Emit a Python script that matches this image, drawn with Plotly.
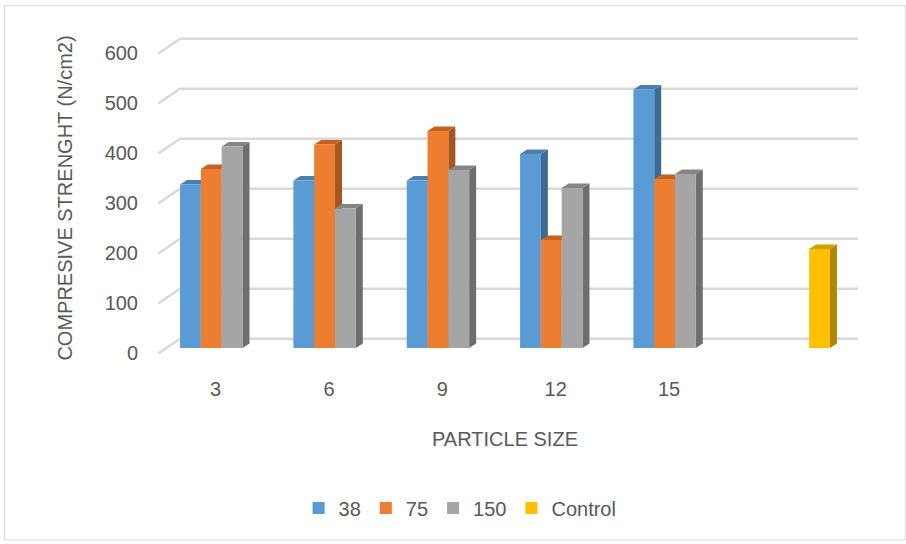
import plotly.graph_objects as go

# ---------------- data ----------------
categories = ["3", "6", "9", "12", "15", ""]
series_names = ["38", "75", "150", "Control"]
vals_38 = [327, 335, 335, 388, 517]
vals_75 = [358, 407, 434, 216, 338]
vals_150 = [403, 279, 356, 320, 348]
vals_control = [198]
y_ticks = [0, 100, 200, 300, 400, 500, 600]

colors = ["#5B9BD5", "#ED7D31", "#A5A5A5", "#FFC000"]
side_colors = ["#3E6A93", "#A4561F", "#6E6E6E", "#B08500"]
top_colors = ["#4A7FB0", "#C2631F", "#858585", "#D4A000"]

# ---------------- layout geometry (pixels) ----------------
W, H = 906, 544
PL, PR = 165.0, 844.8          # plot area left/right
PT, PB = 47.5, 348.5           # plot area top/bottom
YMAX = 600
pw, ph = PR - PL, PB - PT
cat_px = pw / len(categories)
bargap = 0.266
G = 1 - bargap
bw = G / len(series_names)
depth_dx_px, depth_dy_px = 7.0, 4.5      # bar depth
wall_dy_px = 9.2                          # back wall offset vs bar front
front_dy_px = -5.5                        # front plane offset vs bar front

def px_to_paper_x(px):
    return (px - PL) / pw

def px_to_paper_y(py):
    return (PB - py) / ph

x_idx = list(range(len(categories)))
series_x = [x_idx[:5], x_idx[:5], x_idx[:5], [5]]
series_vals = [vals_38, vals_75, vals_150, vals_control]

fig = go.Figure()
for j, (name, xs, ys) in enumerate(zip(series_names, series_x, series_vals)):
    fig.add_trace(go.Bar(
        x=xs, y=ys, name=name, marker=dict(color=colors[j], line=dict(width=0)),
        offset=-G / 2 + j * bw, width=bw,
    ))

shapes = []
# back-wall gridlines with the 3D floor diagonals
for v in y_ticks:
    yb = v / YMAX + wall_dy_px / ph
    xb0 = px_to_paper_x(180)
    shapes.append(dict(type="line", xref="paper", yref="paper",
                       x0=xb0, x1=px_to_paper_x(858), y0=yb, y1=yb,
                       line=dict(color="#D9D9D9", width=2.5), layer="below"))
    yf = v / YMAX + front_dy_px / ph
    shapes.append(dict(type="line", xref="paper", yref="paper",
                       x0=px_to_paper_x(158.3), y0=yf, x1=xb0, y1=yb,
                       line=dict(color="#D9D9D9", width=2.5), layer="below"))

# 3D faces of the bars
ddx = depth_dx_px / cat_px
ddy = depth_dy_px / ph * YMAX
for j, (xs, ys) in enumerate(zip(series_x, series_vals)):
    for xi, v in zip(xs, ys):
        L = xi - G / 2 + j * bw
        R = L + bw
        side = f"M {R},0 L {R+ddx},{ddy} L {R+ddx},{v+ddy} L {R},{v} Z"
        top = f"M {L},{v} L {R},{v} L {R+ddx},{v+ddy} L {L+ddx},{v+ddy} Z"
        shapes.append(dict(type="path", xref="x", yref="y", path=side,
                           fillcolor=side_colors[j], line=dict(width=0), layer="below"))
        shapes.append(dict(type="path", xref="x", yref="y", path=top,
                           fillcolor=top_colors[j], line=dict(width=0), layer="below"))

# chart border
shapes.append(dict(type="rect", xref="paper", yref="paper",
                   x0=px_to_paper_x(4.5), x1=px_to_paper_x(905),
                   y0=px_to_paper_y(541), y1=px_to_paper_y(5),
                   line=dict(color="#D9D9D9", width=1), fillcolor="rgba(0,0,0,0)", layer="below"))

font_family = "Liberation Sans, Arial, sans-serif"
text_color = "#595959"

fig.update_layout(
    width=W, height=H,
    margin=dict(l=PL, r=W - PR, t=PT, b=H - PB, pad=0),
    paper_bgcolor="white", plot_bgcolor="rgba(0,0,0,0)",
    barmode="group", bargap=bargap, bargroupgap=0,
    font=dict(family=font_family, size=20, color=text_color),
    shapes=shapes,
    showlegend=True,
    legend=dict(orientation="h", x=px_to_paper_x(460), xanchor="center",
                y=px_to_paper_y(509), yanchor="middle",
                font=dict(size=20, color=text_color), traceorder="normal"),
    xaxis=dict(range=[-0.5, len(categories) - 0.5], tickmode="array",
               tickvals=x_idx, ticktext=categories, showgrid=False, zeroline=False,
               showline=False, ticks="", ticklabelstandoff=27, ticklabelshift=-6,
               title=dict(text="PARTICLE SIZE", standoff=32,
                          font=dict(size=20, color=text_color))),
    yaxis=dict(range=[0, YMAX], tickmode="array", tickvals=y_ticks,
               showgrid=False, zeroline=False, showline=False, ticks="",
               ticklabelstandoff=26, ticklabelshift=5,
               title=dict(text="COMPRESIVE STRENGHT (N/cm2)", standoff=26,
                          font=dict(size=20, color=text_color))),
)

fig.write_html("out.html", config={"displayModeBar": False},
               post_script="document.body.style.margin='0px';")
